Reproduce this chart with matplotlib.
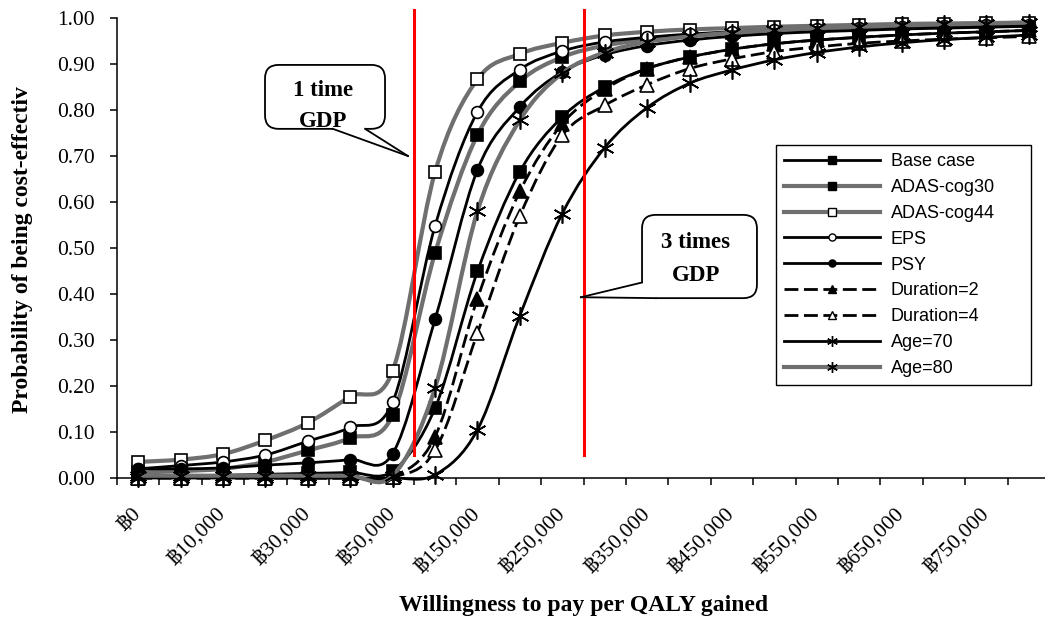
import numpy as np
import matplotlib
matplotlib.use("Agg")
import matplotlib.pyplot as plt
from matplotlib.path import Path
from matplotlib.patches import PathPatch, FancyBboxPatch, Polygon
from matplotlib.lines import Line2D

W, H = 1045, 622
plt.rcParams["font.family"] = ["Liberation Serif", "DejaVu Serif"]

# willingness to pay categories (baht per QALY)
wtp = [0, 5000, 10000, 20000, 30000, 40000, 50000, 100000, 150000, 200000,
       250000, 300000, 350000, 400000, 450000, 500000, 550000, 600000,
       650000, 700000, 750000, 800000]

base_case = [0.005, 0.005, 0.006, 0.008, 0.010, 0.012, 0.015, 0.152, 0.449, 0.666, 0.785,
             0.850, 0.890, 0.915, 0.932, 0.944, 0.952, 0.958, 0.963, 0.967, 0.970, 0.973]
adas_cog30 = [0.012, 0.015, 0.020, 0.035, 0.060, 0.087, 0.137, 0.489, 0.746, 0.862, 0.915,
              0.940, 0.953, 0.961, 0.967, 0.971, 0.974, 0.977, 0.979, 0.981, 0.982, 0.984]
adas_cog44 = [0.035, 0.040, 0.052, 0.082, 0.120, 0.177, 0.233, 0.665, 0.867, 0.922, 0.946,
              0.962, 0.970, 0.975, 0.978, 0.981, 0.983, 0.985, 0.987, 0.988, 0.989, 0.990]
eps = [0.020, 0.027, 0.035, 0.050, 0.080, 0.110, 0.165, 0.548, 0.796, 0.888, 0.928,
       0.948, 0.958, 0.965, 0.970, 0.974, 0.977, 0.979, 0.981, 0.983, 0.984, 0.985]
psy = [0.020, 0.020, 0.022, 0.028, 0.033, 0.040, 0.053, 0.345, 0.670, 0.807, 0.883,
       0.920, 0.940, 0.952, 0.960, 0.966, 0.970, 0.973, 0.976, 0.978, 0.980, 0.982]
duration2 = [0.0, 0.0, 0.0, 0.0, 0.0, 0.0, 0.003, 0.090, 0.390, 0.623, 0.770,
             0.845, 0.890, 0.915, 0.932, 0.944, 0.952, 0.958, 0.963, 0.967, 0.970, 0.973]
duration4 = [0.0, 0.0, 0.0, 0.0, 0.0, 0.0, 0.002, 0.060, 0.315, 0.570, 0.745,
             0.810, 0.855, 0.890, 0.911, 0.927, 0.937, 0.945, 0.950, 0.954, 0.957, 0.960]
age70 = [0.0, 0.0, 0.0, 0.0, 0.0, 0.0, 0.0, 0.007, 0.105, 0.353, 0.575,
         0.718, 0.805, 0.858, 0.887, 0.909, 0.925, 0.937, 0.946, 0.953, 0.958, 0.963]
age80 = [0.005, 0.005, 0.005, 0.005, 0.005, 0.005, 0.005, 0.196, 0.580, 0.778, 0.880,
         0.925, 0.948, 0.960, 0.968, 0.974, 0.978, 0.981, 0.984, 0.986, 0.988, 0.990]

# GDP thresholds, in category units (drawn between categories)
gdp_x = [6.5, 10.5]

BLACK = "black"
GREY = "#6f6f6f"
STAR = (6, 2, 0)
DASH = (0, (5, 2))

# label, values, color, lw, linestyle, marker, facecolor, markersize
series = [
    ("Base case", base_case, BLACK, 2.0, "-", "s", BLACK, 8.5),
    ("ADAS-cog30", adas_cog30, GREY, 3.0, "-", "s", BLACK, 8.5),
    ("ADAS-cog44", adas_cog44, GREY, 3.0, "-", "s", "white", 8.5),
    ("EPS", eps, BLACK, 2.0, "-", "o", "white", 8.5),
    ("PSY", psy, BLACK, 2.0, "-", "o", BLACK, 8.5),
    ("Duration=2", duration2, BLACK, 2.0, DASH, "^", BLACK, 9.5),
    ("Duration=4", duration4, BLACK, 2.0, DASH, "^", "white", 9.5),
    ("Age=70", age70, BLACK, 2.0, "-", STAR, BLACK, 13),
    ("Age=80", age80, GREY, 3.0, "-", STAR, BLACK, 13),
]


def smooth_path(xs, ys):
    # Excel-like smoothed line: cubic bezier through every point
    pts = np.column_stack([xs, ys]).astype(float)
    n = len(pts)
    verts = [pts[0]]
    codes = [Path.MOVETO]
    for i in range(n - 1):
        p0 = pts[i - 1] if i > 0 else pts[i]
        p1, p2 = pts[i], pts[i + 1]
        p3 = pts[i + 2] if i + 2 < n else pts[i + 1]
        verts += [p1 + (p2 - p0) / 6, p2 - (p3 - p1) / 6, p2]
        codes += [Path.CURVE4] * 3
    return Path(verts, codes)


fig = plt.figure(figsize=(W / 100, H / 100), dpi=100)
ax = fig.add_axes([117 / W, 1 - 478 / H, (1050 - 117) / W, 460 / H])
x = np.arange(len(wtp))
ax.set_xlim(-0.5, len(wtp) - 0.5)
ax.set_ylim(0, 1)

handles = []
for k, (label, vals, color, lw, ls, marker, mfc, ms) in enumerate(series):
    z = 3 + k
    ax.add_patch(PathPatch(smooth_path(x, vals), fill=False, edgecolor=color,
                           lw=lw, linestyle=ls, clip_on=False, zorder=z))
    ax.plot(x, vals, linestyle="none", marker=marker, ms=ms, mfc=mfc, mec=BLACK,
            mew=1.2, clip_on=False, zorder=z + 0.5)
    handles.append(Line2D([], [], color=color, lw=lw, linestyle=ls, marker=marker,
                          ms=ms * 0.6, mfc=mfc, mec=BLACK, mew=1.0, label=label))

# GDP threshold lines
for gx in gdp_x:
    ax.plot([gx, gx], [0.05, 1.017], color="#ff0000", lw=2.2, clip_on=False, zorder=20)

# axes styling
for side in ("top", "right"):
    ax.spines[side].set_visible(False)
for side in ("left", "bottom"):
    ax.spines[side].set_linewidth(1.1)

ax.set_yticks(np.arange(0, 1.001, 0.1))
ax.set_yticklabels([f"{v:.2f}" for v in np.arange(0, 1.001, 0.1)])
ax.tick_params(axis="y", length=5, width=1.1, pad=11, labelsize=15.5)

ax.set_xticks(x[::2])
ax.set_xticklabels([f"\u0e3f{v:,}" for v in wtp[::2]])
ax.set_xticks(np.arange(len(wtp) + 1) - 0.5, minor=True)
ax.tick_params(axis="x", which="major", length=0, pad=24, labelsize=15.5)
ax.tick_params(axis="x", which="minor", length=5, width=1.1)
for lab in ax.get_xticklabels():
    lab.set_rotation(45)
    lab.set_ha("right")
    lab.set_va("center")
    lab.set_rotation_mode("anchor")

ax.set_xlabel("Willingness to pay per QALY gained", fontsize=17, fontweight="bold")
ax.xaxis.set_label_coords(0.5, (478 - 605) / 460)
ax.xaxis.label.set_va("center")
ax.set_ylabel("Probability of being cost-effectiv", fontsize=17, fontweight="bold")
ax.yaxis.set_label_coords((23 - 117) / 933, (478 - 250) / 460)
ax.yaxis.label.set_va("center")

# callouts
asp = (1 / 460) / (22 / 933)


def callout(x0, x1, y0, y1, lines, tip, base_a, base_b, inner):
    box = FancyBboxPatch((x0, y0), x1 - x0, y1 - y0,
                         boxstyle="round,pad=0,rounding_size=0.32",
                         mutation_aspect=asp, facecolor="white", edgecolor=BLACK,
                         lw=1.3, clip_on=False, zorder=25)
    ax.add_patch(box)
    ax.add_patch(Polygon([tip, base_a] + inner + [base_b], closed=True, facecolor="white",
                         edgecolor="none", clip_on=False, zorder=26))
    for b in (base_a, base_b):
        ax.plot([tip[0], b[0]], [tip[1], b[1]], color=BLACK, lw=1.3, clip_on=False, zorder=27)
    for txt, (tx, ty) in lines:
        ax.text(tx, ty, txt, ha="center", va="center", fontsize=16.5, fontweight="bold",
                zorder=28)


callout(2.99, 5.82, 0.759, 0.898,
        [("1 time", (4.36, 0.843)), ("GDP", (4.36, 0.774))],
        (6.36, 0.700), (4.59, 0.759), (5.35, 0.759),
        [(4.59, 0.775), (5.35, 0.775)])
callout(11.88, 14.59, 0.391, 0.572,
        [("3 times", (13.15, 0.511)), ("GDP", (13.15, 0.441))],
        (10.44, 0.393), (11.88, 0.425), (12.2, 0.391),
        [(12.0, 0.425), (12.2, 0.405)])

leg = fig.legend(handles=handles, loc="upper left",
                 bbox_to_anchor=(776 / W, 1 - 382 / H, (1031 - 776) / W, (382 - 145) / H),
                 bbox_transform=fig.transFigure, mode="expand", borderaxespad=0,
                 prop={"family": "Liberation Sans", "size": 13}, fancybox=False,
                 edgecolor=BLACK, framealpha=1, borderpad=0.45, labelspacing=0.49,
                 handlelength=5.3, handletextpad=0.6)
leg.get_frame().set_linewidth(1.0)

fig.savefig("out.png", dpi=100)
